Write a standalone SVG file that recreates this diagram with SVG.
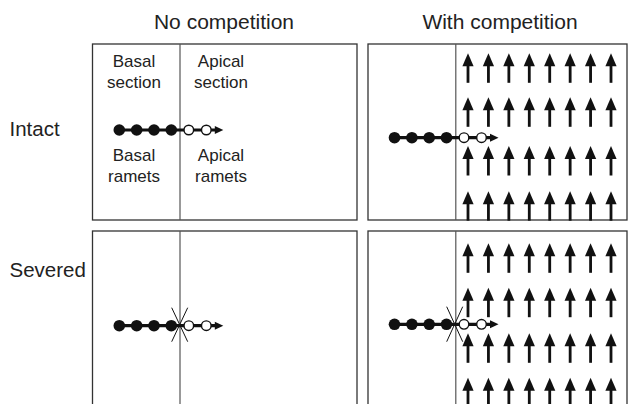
<svg xmlns="http://www.w3.org/2000/svg" xmlns:xlink="http://www.w3.org/1999/xlink" width="628" height="404" viewBox="0 0 628 404">
<style>
text{font-family:"Liberation Sans",Arial,Helvetica,sans-serif;fill:#222}
.title{font-size:21px;text-anchor:middle}
.side{font-size:20.5px}
.lbl{font-size:17px;text-anchor:middle}
.panel{fill:#fff;stroke:#333;stroke-width:1.3}
.div{stroke:#555;stroke-width:1.2}
.stolon{stroke:#111;stroke-width:3.2;fill:none}
.fill{fill:#111}
.open{fill:#fff;stroke:#111;stroke-width:1.4}
.cut{stroke:#111;stroke-width:1;fill:none}
</style>
<defs>
<g id="up">
<polygon points="0,0 5.6,13 -5.6,13" fill="#111"/>
<rect x="-1.4" y="11" width="2.8" height="18.5" fill="#111"/>
</g>
<g id="row">
<use xlink:href="#up" x="0"/>
<use xlink:href="#up" x="20.43"/>
<use xlink:href="#up" x="40.86"/>
<use xlink:href="#up" x="61.29"/>
<use xlink:href="#up" x="81.72"/>
<use xlink:href="#up" x="102.15"/>
<use xlink:href="#up" x="122.58"/>
<use xlink:href="#up" x="143"/>
</g>
<g id="chain">
<line class="stolon" x1="0" y1="0" x2="97" y2="0"/>
<circle class="fill" cx="0" cy="0" r="5.8"/>
<circle class="fill" cx="17.4" cy="0" r="5.8"/>
<circle class="fill" cx="34.7" cy="0" r="5.8"/>
<circle class="fill" cx="52" cy="0" r="5.8"/>
<circle class="open" cx="69.5" cy="0" r="4.8"/>
<circle class="open" cx="87" cy="0" r="4.8"/>
<polygon points="95.5,-4 104,0 95.5,4" fill="#111"/>
</g>
</defs>

<g id="headings">
<text class="title" x="224" y="29">No competition</text>
<text class="title" x="500" y="29">With competition</text>
<text class="side" x="9.5" y="136">Intact</text>
<text class="side" x="9.5" y="276.5">Severed</text>
</g>

<g id="intact-no-competition">
<rect class="panel" x="92.5" y="44" width="264.5" height="176"/>
<line class="div" x1="180" y1="44" x2="180" y2="220"/>
<text class="lbl" x="134" y="67">Basal</text>
<text class="lbl" x="134" y="88">section</text>
<text class="lbl" x="221" y="67">Apical</text>
<text class="lbl" x="221" y="88">section</text>
<text class="lbl" x="134" y="161">Basal</text>
<text class="lbl" x="221" y="161">Apical</text>
<text class="lbl" x="134" y="182">ramets</text>
<text class="lbl" x="221" y="182">ramets</text>
<use xlink:href="#chain" x="119.3" y="130"/>
</g>

<g id="intact-with-competition">
<rect class="panel" x="368" y="44" width="259" height="176"/>
<line class="div" x1="455.8" y1="44" x2="455.8" y2="220"/>
<use xlink:href="#row" x="468" y="53.3"/>
<use xlink:href="#row" x="468" y="97.3"/>
<use xlink:href="#row" x="468" y="146"/>
<use xlink:href="#row" x="468" y="191.2"/>
<use xlink:href="#chain" x="394.5" y="137.7"/>
</g>

<g id="severed-no-competition">
<rect class="panel" x="92.5" y="231" width="264.5" height="190"/>
<line class="div" x1="180" y1="231" x2="180" y2="404"/>
<use xlink:href="#chain" x="119.3" y="325.7"/>
<path class="cut" d="M171.7,307.7 L187.7,341.7 M187.7,307.7 L171.7,341.7"/>
</g>

<g id="severed-with-competition">
<rect class="panel" x="368" y="231" width="259" height="190"/>
<line class="div" x1="455.8" y1="231" x2="455.8" y2="404"/>
<use xlink:href="#row" x="468" y="243.3"/>
<use xlink:href="#row" x="468" y="287.7"/>
<use xlink:href="#row" x="468" y="333.3"/>
<use xlink:href="#row" x="468" y="377.7"/>
<use xlink:href="#chain" x="394.5" y="324.3"/>
<path class="cut" d="M446.7,306.7 L462.7,341.7 M462.7,306.7 L446.7,341.7"/>
</g>
</svg>
